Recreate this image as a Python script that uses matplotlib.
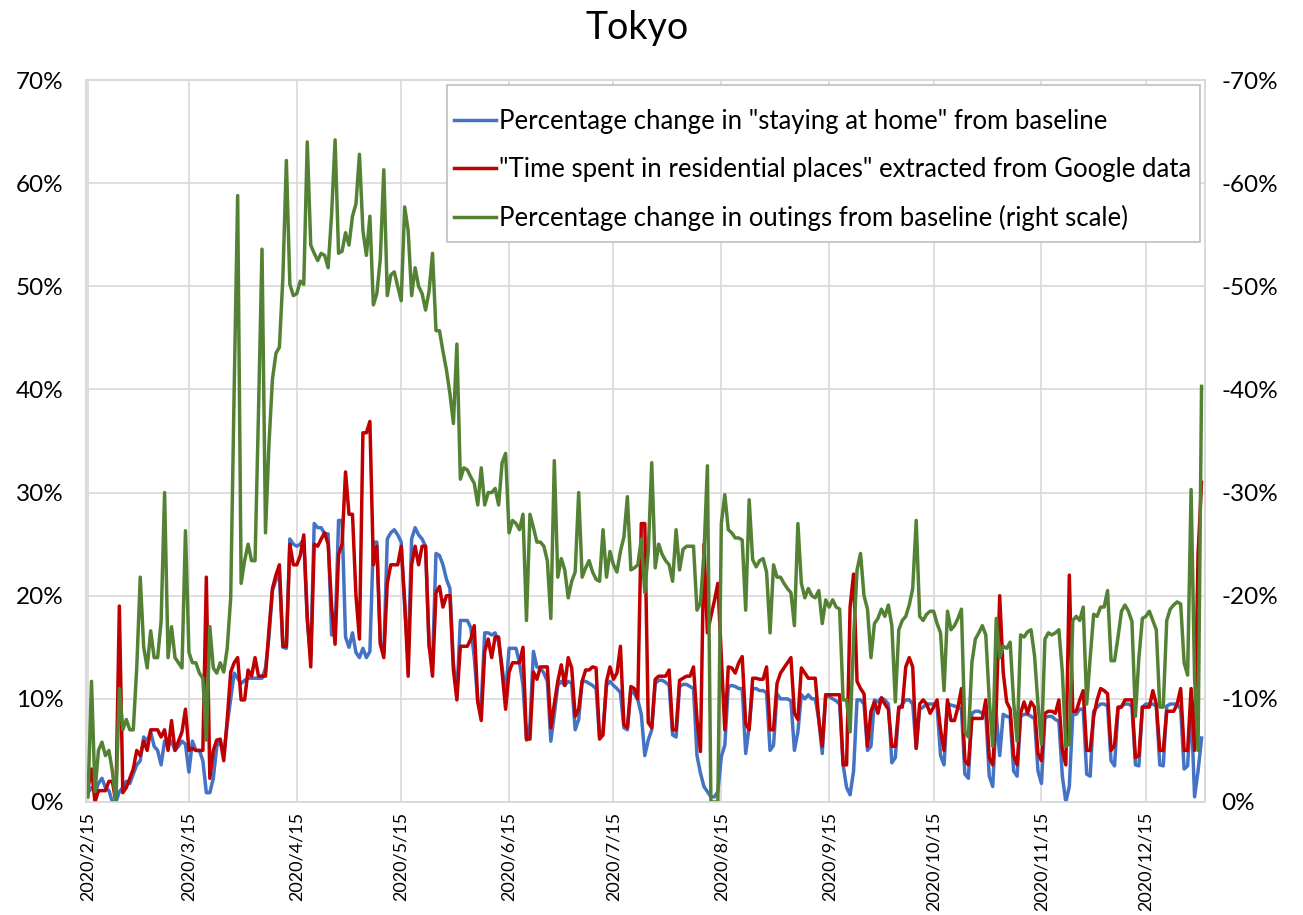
import numpy as np
import pandas as pd
import matplotlib
matplotlib.use("Agg")
import matplotlib.pyplot as plt
from matplotlib.ticker import PercentFormatter, MultipleLocator, FixedLocator
from matplotlib.lines import Line2D
from matplotlib.patches import Rectangle

plt.rcParams['font.family'] = ['Lato', 'DejaVu Sans']
plt.rcParams['axes.unicode_minus'] = False

# daily values 2020/2/15 - 2020/12/31, one row per week (Sat .. Fri)
# percentage change in "staying at home" from baseline (left scale, %)
stay_home = [
    0.9, 1.4, 0.9, 1.8, 2.3, 1.4, 1.1,
    0.0, 0.0, 1.0, 1.4, 2.0, 1.8, 2.7,
    3.6, 4.0, 6.3, 5.9, 6.8, 5.4, 5.0,
    3.6, 5.9, 5.4, 5.9, 5.0, 5.4, 5.9,
    5.6, 2.9, 5.9, 5.0, 5.0, 4.0, 0.9,
    0.9, 2.3, 5.4, 5.9, 4.5, 7.5, 10.0,
    12.5, 12.0, 11.5, 11.8, 12.0, 12.0, 12.0,
    12.0, 12.0, 13.0, 16.0, 20.5, 21.5, 22.0,
    15.0, 14.9, 25.5, 25.0, 24.8, 25.0, 25.5,
    17.6, 14.0, 27.0, 26.6, 26.6, 26.0, 26.0,
    16.2, 16.2, 27.3, 27.3, 16.0, 15.0, 16.4,
    14.5, 14.0, 14.9, 14.0, 14.6, 25.2, 25.2,
    15.5, 14.4, 25.5, 26.1, 26.4, 25.9, 25.2,
    18.9, 14.2, 25.5, 26.6, 25.9, 25.5, 24.8,
    15.1, 13.5, 24.1, 23.9, 23.0, 21.6, 20.7,
    13.5, 10.4, 17.6, 17.6, 17.6, 16.9, 14.0,
    9.7, 9.5, 16.4, 16.4, 16.2, 16.4, 15.5,
    13.1, 10.4, 14.9, 14.9, 14.9, 13.5, 11.3,
    6.0, 7.5, 14.6, 13.1, 13.0, 12.5, 11.7,
    5.9, 8.5, 11.3, 11.7, 11.3, 11.7, 11.5,
    7.0, 8.0, 11.7, 11.7, 11.5, 11.3, 11.0,
    6.3, 7.0, 11.3, 11.7, 11.3, 11.0, 10.6,
    7.2, 7.0, 10.8, 10.5, 9.9, 8.5, 4.5,
    6.0, 7.0, 11.5, 11.8, 11.8, 11.6, 11.3,
    6.5, 6.3, 11.2, 11.4, 11.4, 11.2, 11.0,
    4.5, 2.8, 1.5, 1.0, 0.5, 0.5, 1.0,
    4.4, 5.5, 11.2, 11.3, 11.2, 11.0, 11.0,
    4.7, 7.3, 11.0, 11.0, 10.8, 10.8, 10.6,
    5.0, 5.5, 10.5, 10.0, 10.0, 10.0, 9.8,
    5.0, 6.8, 10.4, 10.0, 10.4, 10.0, 10.0,
    8.0, 4.7, 10.4, 10.2, 10.0, 9.8, 9.5,
    3.6, 1.4, 0.7, 3.0, 9.9, 9.9, 9.5,
    5.0, 5.4, 9.9, 9.7, 10.1, 9.9, 9.5,
    3.8, 4.3, 9.0, 9.5, 9.9, 9.9, 9.5,
    5.2, 9.0, 9.2, 9.5, 9.5, 9.5, 9.3,
    4.5, 3.6, 9.5, 9.4, 9.3, 9.2, 9.0,
    2.7, 2.3, 8.6, 8.8, 8.8, 8.6, 8.5,
    2.5, 1.5, 8.5, 4.5, 8.5, 8.3, 8.2,
    3.0, 2.5, 8.3, 8.5, 8.5, 8.3, 8.1,
    3.0, 1.8, 8.2, 8.3, 8.3, 8.0, 7.8,
    2.5, 0.0, 1.5, 8.5, 8.5, 9.0, 9.0,
    2.7, 2.5, 8.8, 9.2, 9.5, 9.5, 9.3,
    4.0, 3.5, 9.0, 9.3, 9.5, 9.5, 9.3,
    3.6, 3.5, 9.2, 9.5, 9.5, 9.5, 9.3,
    3.6, 3.5, 9.3, 9.5, 9.5, 9.5, 9.0,
    3.2, 3.5, 9.5, 0.5, 3.0, 6.2,
]

# "time spent in residential places" from Google data (left scale, %)
residential = [
    1.4, 3.2, 0.0, 1.1, 1.1, 1.1, 2.0,
    2.0, 0.0, 19.0, 0.9, 1.4, 2.3, 3.2,
    5.0, 4.5, 5.9, 5.0, 7.0, 7.0, 7.0,
    6.3, 7.0, 5.0, 7.9, 5.0, 5.9, 6.8,
    9.0, 5.0, 5.2, 5.0, 5.0, 5.0, 21.8,
    2.3, 5.0, 6.0, 6.1, 4.0, 8.0, 12.6,
    13.5, 14.0, 9.9, 9.9, 12.8, 12.2, 14.0,
    12.2, 12.2, 12.2, 16.7, 20.7, 22.0, 23.0,
    15.1, 15.1, 25.0, 23.0, 23.0, 23.9, 25.9,
    18.0, 13.1, 25.0, 24.8, 25.5, 26.1, 25.0,
    19.0, 15.3, 24.0, 25.0, 32.0, 27.9, 27.9,
    20.0, 15.8, 35.8, 35.8, 36.9, 23.0, 24.8,
    15.3, 14.0, 21.2, 23.0, 23.0, 23.0, 24.8,
    19.4, 12.2, 23.0, 24.8, 23.0, 24.8, 24.8,
    15.3, 12.2, 20.3, 20.9, 18.9, 20.0, 20.0,
    12.8, 9.9, 15.1, 15.1, 15.1, 15.8, 17.1,
    9.7, 7.9, 14.6, 15.8, 14.0, 16.0, 16.0,
    12.6, 9.0, 12.6, 13.5, 13.5, 13.5, 15.0,
    6.1, 6.1, 12.6, 11.9, 13.1, 13.1, 13.1,
    7.2, 9.5, 11.7, 13.3, 11.3, 14.0, 13.0,
    8.3, 9.0, 11.7, 12.8, 12.8, 13.1, 13.0,
    6.1, 6.5, 11.7, 13.1, 11.9, 12.5, 15.1,
    7.5, 7.2, 11.2, 11.0, 10.0, 27.0, 27.0,
    7.7, 7.2, 11.9, 12.2, 12.2, 12.2, 12.8,
    7.0, 7.0, 11.8, 12.0, 12.2, 12.2, 13.1,
    8.0, 4.9, 25.0, 16.4, 18.0, 19.5, 21.2,
    14.0, 7.0, 13.1, 13.0, 12.5, 13.5, 14.1,
    7.6, 7.0, 12.0, 12.0, 11.9, 11.9, 13.1,
    7.0, 7.0, 11.5, 12.5, 13.0, 13.5, 14.0,
    8.6, 8.0, 13.0, 12.5, 12.0, 12.0, 12.0,
    8.0, 5.4, 10.4, 10.4, 10.4, 10.4, 10.4,
    3.6, 3.6, 18.9, 22.1, 11.7, 11.0, 10.5,
    5.4, 8.8, 9.7, 8.6, 10.1, 9.5, 9.0,
    5.4, 5.4, 9.2, 9.2, 13.1, 14.0, 13.1,
    5.2, 9.5, 9.9, 9.5, 8.6, 9.2, 9.9,
    7.0, 5.0, 9.9, 7.9, 7.9, 9.2, 11.0,
    4.0, 3.6, 8.1, 8.1, 8.1, 8.1, 9.9,
    4.3, 3.6, 9.0, 20.0, 12.6, 9.7, 9.0,
    4.5, 3.6, 8.6, 9.7, 8.6, 9.7, 9.2,
    4.7, 4.0, 8.6, 8.8, 8.8, 8.6, 9.9,
    5.0, 3.6, 22.0, 8.8, 8.8, 9.9, 10.8,
    5.0, 5.0, 8.3, 9.9, 11.0, 10.8, 10.5,
    5.0, 5.5, 9.2, 9.2, 9.9, 9.9, 9.9,
    4.3, 4.5, 9.2, 9.2, 9.2, 10.8, 9.5,
    5.0, 5.0, 8.8, 8.8, 8.8, 9.5, 11.0,
    5.0, 5.0, 11.0, 5.0, 24.0, 31.0,
]

# fall in outings from baseline (right scale, plotted as negative %)
outings_drop = [
    0.5, 11.7, 1.0, 5.0, 5.8, 4.5, 5.0,
    3.0, 0.0, 11.0, 7.0, 8.0, 7.0, 7.0,
    13.0, 21.8, 15.0, 13.0, 16.6, 14.0, 14.0,
    17.5, 30.0, 14.0, 17.0, 14.0, 13.5, 13.0,
    26.3, 14.5, 13.5, 13.5, 12.5, 12.0, 6.0,
    17.0, 13.0, 12.5, 13.5, 12.6, 14.9, 19.8,
    40.0, 58.8, 21.2, 23.4, 25.0, 23.4, 23.4,
    38.0, 53.6, 26.1, 34.7, 41.0, 43.5, 44.1,
    50.9, 62.2, 50.2, 49.1, 49.3, 50.5, 50.2,
    64.0, 54.0, 53.2, 52.5, 53.2, 53.0, 51.8,
    57.0, 64.2, 53.2, 53.4, 55.2, 54.0, 56.8,
    58.0, 62.8, 55.4, 53.0, 56.8, 48.2, 49.3,
    52.7, 61.3, 49.1, 51.1, 51.4, 50.0, 48.6,
    57.7, 55.4, 49.1, 51.8, 50.0, 49.3, 47.7,
    49.5, 53.2, 45.7, 45.7, 43.7, 41.9, 39.6,
    36.7, 44.4, 31.3, 32.4, 32.2, 31.5, 30.9,
    28.8, 32.4, 28.8, 30.0, 30.0, 30.4, 28.8,
    32.9, 33.8, 26.1, 27.3, 27.0, 26.4, 27.9,
    17.6, 27.9, 26.6, 25.2, 25.2, 24.8, 23.4,
    17.8, 33.1, 21.8, 23.6, 22.5, 19.8, 21.4,
    22.3, 30.0, 21.8, 22.7, 23.4, 22.3, 21.6,
    21.4, 26.4, 21.8, 24.3, 23.0, 22.3, 24.3,
    25.7, 29.6, 22.5, 22.7, 23.0, 25.5, 20.3,
    24.3, 32.9, 22.7, 25.0, 24.0, 23.4, 23.0,
    21.4, 26.4, 22.5, 24.5, 24.8, 24.8, 24.8,
    18.6, 19.3, 24.0, 32.6, 0.0, 0.0, 0.0,
    27.0, 29.8, 26.4, 26.1, 25.6, 25.6, 25.4,
    18.6, 29.3, 23.5, 22.8, 23.4, 23.6, 22.3,
    16.4, 23.0, 21.8, 21.8, 21.2, 20.7, 20.3,
    17.1, 27.0, 21.2, 19.8, 20.7, 20.0, 19.8,
    20.5, 17.3, 19.6, 18.9, 19.6, 18.9, 18.7,
    9.9, 9.9, 6.8, 15.8, 22.5, 24.1, 20.0,
    18.7, 14.0, 17.3, 17.8, 18.7, 18.0, 19.1,
    17.1, 9.7, 16.7, 17.6, 18.0, 19.1, 20.7,
    27.3, 18.0, 17.6, 18.2, 18.5, 18.5, 17.3,
    16.4, 10.8, 18.5, 16.7, 17.1, 17.8, 18.7,
    6.8, 6.3, 13.5, 15.8, 16.4, 17.1, 16.2,
    9.9, 5.4, 17.8, 14.0, 15.1, 14.9, 15.5,
    9.7, 5.9, 16.2, 16.0, 16.5, 16.7, 14.2,
    9.5, 5.6, 15.8, 16.4, 16.2, 16.4, 16.7,
    12.6, 5.4, 5.6, 17.6, 18.0, 17.6, 18.9,
    9.5, 14.0, 18.2, 18.0, 18.9, 18.9, 20.5,
    13.7, 13.7, 16.0, 18.5, 19.1, 18.5, 17.5,
    8.3, 14.0, 17.8, 18.0, 18.5, 17.6, 16.7,
    9.2, 9.2, 17.6, 18.7, 19.1, 19.4, 19.2,
    13.5, 12.3, 30.3, 12.0, 5.0, 40.3,
]

labels = [
    'Percentage change in "staying at home" from baseline',
    '"Time spent in residential places" extracted from Google data',
    'Percentage change in outings from baseline (right scale)',
]
colors = ["#4472C4", "#C00000", "#548235"]

dates = pd.date_range("2020-02-15", "2020-12-31", freq="D")
tick_dates = [pd.Timestamp(2020, m, 15) for m in range(2, 13)]
tick_labels = [f"{d.year}/{d.month}/{d.day}" for d in tick_dates]

W, H = 1303, 915
fig = plt.figure(figsize=(W / 100, H / 100), dpi=100)
ax = fig.add_axes([0.066, 0.1235, 0.8588, 0.789])

ax.plot(dates, np.array(stay_home) / 100, color=colors[0], lw=2.5, zorder=3)
ax.plot(dates, np.array(residential) / 100, color=colors[1], lw=2.5, zorder=4)

ax2 = ax.twinx()
ax2.plot(dates, -np.array(outings_drop) / 100, color=colors[2], lw=2.5)

ax.set_ylim(0, 0.7)
ax2.set_ylim(0, -0.7)
for a in (ax, ax2):
    a.yaxis.set_major_locator(MultipleLocator(0.1))
    a.yaxis.set_major_formatter(PercentFormatter(1.0, decimals=0))
    for s in a.spines.values():
        s.set_color("#d9d9d9")
        s.set_linewidth(1.2)

ax.set_xlim(dates[0] - pd.Timedelta(hours=14), dates[-1] + pd.Timedelta(hours=24))
ax.xaxis.set_major_locator(FixedLocator([matplotlib.dates.date2num(d) for d in tick_dates]))
ax.set_xticklabels(tick_labels, rotation=90, va="top", ha="center")
ax.grid(True, color="#d9d9d9", lw=1.2)
ax.set_axisbelow(True)

ax.tick_params(axis="y", length=0, labelsize=17.5, pad=16)
ax.tick_params(axis="x", length=0, labelsize=13, pad=7)
ax2.tick_params(axis="y", length=0, labelsize=17.5, pad=12)

fig.text(0.489, 0.969, "Tokyo", ha="center", va="center", fontsize=27)

# legend box (Excel style: more room above/below than at the sides)
box = Rectangle((447 / W, 1 - 242 / H), (1200 - 447) / W, (242 - 85) / H,
                transform=fig.transFigure, facecolor="white",
                edgecolor="#bfbfbf", lw=1.2, zorder=8, clip_on=False)
ax2.add_artist(box)

handles = [Line2D([0], [0], color=c, lw=2.5) for c in colors]
leg = ax2.legend(handles, labels, loc="upper left",
                 bbox_to_anchor=(454 / W, 1 - 109 / H), bbox_transform=fig.transFigure,
                 fontsize=18.5, frameon=False, borderaxespad=0, borderpad=0,
                 handlelength=1.65, handletextpad=0.1, labelspacing=0.9)
leg.set_zorder(9)

fig.savefig("out.png", dpi=100)
